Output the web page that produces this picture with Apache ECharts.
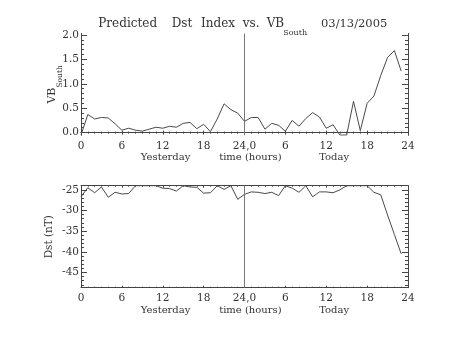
<!DOCTYPE html>
<html><head><meta charset="utf-8">
<script src="https://cdn.jsdelivr.net/npm/echarts@6/dist/echarts.min.js"></script>
<style>html,body{margin:0;padding:0;background:#fff}#c{width:453px;height:340px}</style>
</head><body><div id="c"></div>
<script>
const hours = [0,1,2,3,4,5,6,7,8,9,10,11,12,13,14,15,16,17,18,19,20,21,22,23,
  24,25,26,27,28,29,30,31,32,33,34,35,36,37,38,39,40,41,42,43,44,45,46,47];
const vbSouth = [-0.05,0.37,0.28,0.31,0.30,0.18,0.05,0.09,0.05,0.03,0.07,0.11,
  0.09,0.13,0.11,0.19,0.21,0.08,0.17,0.02,0.28,0.59,0.47,0.40,
  0.23,0.31,0.31,0.07,0.19,0.15,0.03,0.25,0.13,0.29,0.41,0.32,
  0.09,0.16,-0.05,-0.05,0.64,0.04,0.60,0.75,1.17,1.54,1.68,1.26];
const dst = [-26.7,-24.5,-25.7,-24.3,-26.8,-25.6,-26.0,-25.9,-24.0,-24.0,-24.0,-24.0,
  -24.6,-24.7,-25.3,-24.0,-24.3,-24.4,-25.8,-25.7,-24.0,-24.9,-24.0,-27.3,
  -26.1,-25.5,-25.6,-25.9,-25.6,-26.4,-24.0,-24.6,-25.6,-24.0,-26.7,-25.5,
  -25.5,-25.7,-25.0,-24.0,-24.0,-24.0,-24.0,-25.6,-26.2,-31.1,-35.8,-40.5];
const xTickLabels = ['0','6','12','18','24,0','6','12','18','24'];
const vbTicks = [0, 0.5, 1.0, 1.5, 2.0];
const vbMinorTicks = [0.1,0.2,0.3,0.4,0.6,0.7,0.8,0.9,1.1,1.2,1.3,1.4,1.6,1.7,1.8,1.9];
const dstTicks = [-45, -40, -35, -30, -25];
const dstMinorTicks = [-48,-47,-46,-44,-43,-42,-41,-39,-38,-37,-36,-34,-33,-32,-31,-29,-28,-27,-26];

const FONT = 'DejaVu Serif';
const AX = '#444', TXT = '#333', LN = '#4a4a4a';

function xAxes(gi) {
  const base = {
    type: 'value', gridIndex: gi, min: 0, max: 48, interval: 6,
    axisLine: {show: true, lineStyle: {color: AX, width: 1}},
    axisTick: {show: true, inside: true, length: 2, lineStyle: {color: AX}},
    minorTick: {show: true, splitNumber: 6, length: 1, lineStyle: {color: AX}},
    splitLine: {show: false}, minorSplitLine: {show: false}
  };
  const bottom = Object.assign({}, base, {
    position: 'bottom',
    axisLabel: {show: true, margin: 5, fontFamily: FONT, fontSize: 10.5, color: TXT,
      formatter: v => xTickLabels[Math.round(v / 6)]},
    name: '{a|Yesterday}{b|time (hours)}{c|Today}',
    nameLocation: 'middle', nameGap: 17.5, nameMoveOverlap: false,
    nameTextStyle: {rich: {
      a: {fontFamily: FONT, fontSize: 10, color: TXT, width: 78.3, align: 'left'},
      b: {fontFamily: FONT, fontSize: 10, color: TXT, width: 100, align: 'left'},
      c: {fontFamily: FONT, fontSize: 10, color: TXT, width: 29, align: 'left'}
    }}
  });
  const top = Object.assign({}, base, {position: 'top', axisLabel: {show: false}});
  return [bottom, top];
}

function yAxes(gi, min, max, major, minor, fmt, name, nameGap, rich) {
  const common = {type: 'value', gridIndex: gi, min: min, max: max,
    splitLine: {show: false}, minorSplitLine: {show: false}};
  const leftMajor = Object.assign({}, common, {
    position: 'left',
    axisLine: {show: true, lineStyle: {color: AX, width: 1}},
    axisTick: {show: true, inside: true, length: 6, customValues: major, lineStyle: {color: AX}},
    axisLabel: {show: true, margin: 2, customValues: major, fontFamily: FONT, fontSize: 10.5, color: TXT, formatter: fmt},
    name: name, nameLocation: 'middle', nameGap: nameGap, nameMoveOverlap: false,
    nameTextStyle: {fontFamily: FONT, fontSize: 10.5, color: TXT, rich: rich}
  });
  const leftMinor = Object.assign({}, common, {
    position: 'left', axisLine: {show: false}, axisLabel: {show: false},
    axisTick: {show: true, inside: true, length: 3, customValues: minor, lineStyle: {color: AX}}
  });
  const rightMajor = Object.assign({}, common, {
    position: 'right',
    axisLine: {show: true, lineStyle: {color: AX, width: 1}},
    axisTick: {show: true, inside: true, length: 6, customValues: major, lineStyle: {color: AX}},
    axisLabel: {show: false}
  });
  const rightMinor = Object.assign({}, common, {
    position: 'right', axisLine: {show: false}, axisLabel: {show: false},
    axisTick: {show: true, inside: true, length: 3, customValues: minor, lineStyle: {color: AX}}
  });
  return [leftMajor, leftMinor, rightMajor, rightMinor];
}

const chart = echarts.init(document.getElementById('c'), null, {renderer: 'canvas'});
function tok(size, extra) {
  return Object.assign({fontFamily: FONT, fontSize: size, fontWeight: 'normal', color: TXT,
    lineHeight: 14, verticalAlign: 'top', align: 'left'}, extra || {});
}
const tRich = {
  p: tok(12, {width: 73.4}),
  d: tok(12, {width: 29.3}),
  i: tok(12, {width: 41.7}),
  v: tok(12, {width: 24}),
  b: tok(12, {width: 16.6}),
  s: tok(8, {lineHeight: 8, padding: [10.5, 0, 0, 0], width: 37.7}),
  t: tok(11.5)
};
const vbRich = {
  m: {fontFamily: FONT, fontSize: 11, color: TXT, lineHeight: 13, verticalAlign: 'top'},
  s: {fontFamily: FONT, fontSize: 7.5, color: TXT, lineHeight: 8, verticalAlign: 'top', padding: [9, 0, 0, 0]}
};

const option = {
  animation: false,
  backgroundColor: '#fff',
  title: {
    text: '{p|Predicted}{d|Dst}{i|Index}{v|vs.}{b|VB}{s|South}{t|03/13/2005}',
    left: 98.3, top: 18, padding: 0,
    textStyle: {fontWeight: 'normal', rich: tRich}
  },
  grid: [
    {left: 81, top: 33.5, width: 327, height: 101.8, outerBoundsMode: 'none'},
    {left: 81, top: 185.7, width: 327, height: 102, outerBoundsMode: 'none'}
  ],
  xAxis: [].concat(xAxes(0), xAxes(1)),
  yAxis: [].concat(
    yAxes(0, -0.055, 2.03, vbTicks, vbMinorTicks, v => v.toFixed(1), '{m|VB}{s|South}', 21, vbRich),
    yAxes(1, -48.7, -24, dstTicks, dstMinorTicks, v => String(Math.round(v)), 'Dst (nT)', 26, undefined)
  ),
  series: [
    {
      type: 'line', xAxisIndex: 0, yAxisIndex: 0,
      data: hours.map((h, i) => [h, vbSouth[i]]),
      showSymbol: false, symbol: 'none', clip: true, silent: true,
      lineStyle: {color: LN, width: 1},
      markLine: {silent: true, symbol: 'none', label: {show: false},
        lineStyle: {color: '#777', type: 'solid', width: 1}, data: [{xAxis: 24}]}
    },
    {
      type: 'line', xAxisIndex: 2, yAxisIndex: 4,
      data: hours.map((h, i) => [h, dst[i]]),
      showSymbol: false, symbol: 'none', clip: true, silent: true,
      lineStyle: {color: LN, width: 1},
      markLine: {silent: true, symbol: 'none', label: {show: false},
        lineStyle: {color: '#777', type: 'solid', width: 1}, data: [{xAxis: 24}]}
    }
  ]
};
chart.setOption(option);
</script>
</body></html>
